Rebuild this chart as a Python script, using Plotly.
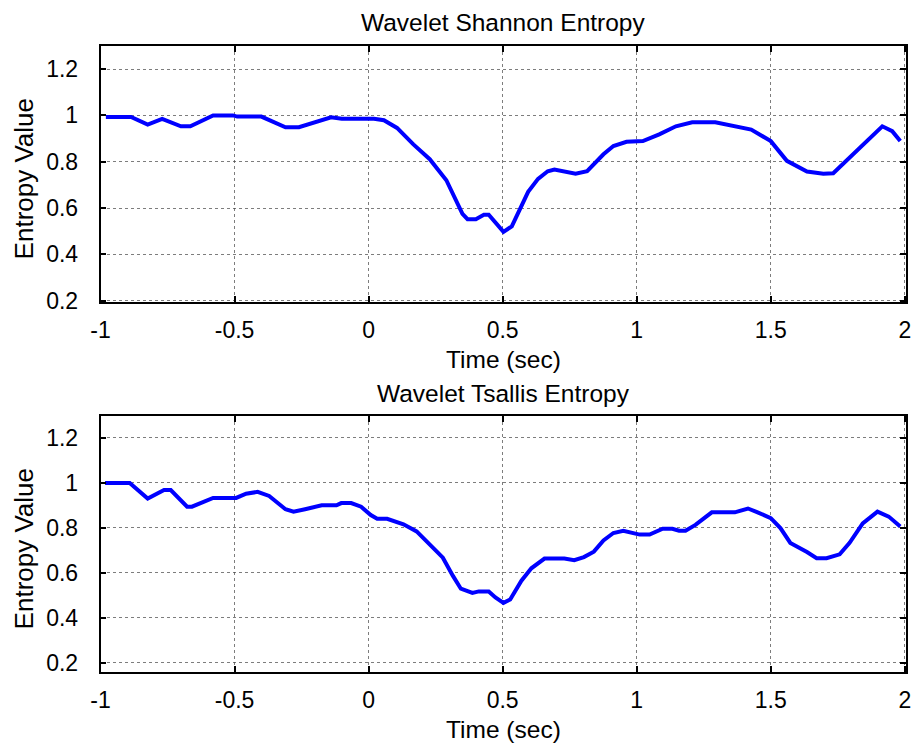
import plotly.graph_objects as go

# Wavelet Shannon Entropy (top panel)
shannon_t = [-0.98, -0.886, -0.824, -0.77, -0.70, -0.665, -0.58, -0.506, -0.49, -0.40, -0.31, -0.26,
             -0.14, -0.10, 0.02, 0.057, 0.106, 0.167, 0.228, 0.29, 0.35, 0.369, 0.40, 0.43, 0.448,
             0.473, 0.503, 0.534, 0.57, 0.595, 0.632, 0.668, 0.693, 0.73, 0.772, 0.815, 0.876,
             0.913, 0.962, 1.023, 1.084, 1.146, 1.207, 1.293, 1.353, 1.427, 1.50, 1.56, 1.635,
             1.696, 1.733, 1.794, 1.867, 1.916, 1.953, 1.983]
shannon_v = [0.993, 0.993, 0.96, 0.985, 0.953, 0.953, 1.0, 1.0, 0.995, 0.995, 0.949, 0.949,
             0.992, 0.986, 0.986, 0.979, 0.946, 0.875, 0.811, 0.72, 0.575, 0.552, 0.552, 0.571, 0.571,
             0.535, 0.497, 0.521, 0.606, 0.67, 0.726, 0.759, 0.766, 0.759, 0.748, 0.759, 0.832,
             0.868, 0.886, 0.889, 0.918, 0.953, 0.97, 0.97, 0.957, 0.939, 0.889, 0.804, 0.758,
             0.748, 0.75, 0.818, 0.903, 0.953, 0.932, 0.889]

# Wavelet Tsallis Entropy (bottom panel)
tsallis_t = [-0.983, -0.891, -0.824, -0.763, -0.738, -0.677, -0.659, -0.58, -0.494, -0.457, -0.414,
             -0.371, -0.31, -0.28, -0.237, -0.175, -0.12, -0.102, -0.065, -0.028, 0.008, 0.032, 0.069,
             0.13, 0.179, 0.228, 0.277, 0.314, 0.344, 0.387, 0.411, 0.448, 0.473, 0.503, 0.528, 0.57,
             0.607, 0.656, 0.73, 0.767, 0.803, 0.84, 0.876, 0.913, 0.95, 1.011, 1.048, 1.097, 1.133,
             1.158, 1.182, 1.219, 1.28, 1.366, 1.415, 1.451, 1.5, 1.536, 1.573, 1.635, 1.671, 1.708,
             1.757, 1.794, 1.843, 1.898, 1.94, 1.983]
tsallis_v = [1.0, 1.0, 0.93, 0.968, 0.968, 0.894, 0.894, 0.933, 0.933, 0.952, 0.96,
             0.942, 0.883, 0.872, 0.883, 0.9, 0.9, 0.91, 0.91, 0.894, 0.857, 0.84, 0.84,
             0.816, 0.784, 0.726, 0.667, 0.587, 0.529, 0.51, 0.517, 0.517, 0.49, 0.466, 0.481, 0.565,
             0.62, 0.663, 0.663, 0.656, 0.67, 0.694, 0.744, 0.777, 0.787, 0.77, 0.77, 0.796, 0.796,
             0.787, 0.787, 0.813, 0.869, 0.869, 0.886, 0.869, 0.843, 0.799, 0.733, 0.692, 0.665, 0.665,
             0.682, 0.733, 0.82, 0.872, 0.85, 0.806]

y_ticks = [0.2, 0.4, 0.6, 0.8, 1.0, 1.2]
y_ticktext = ["0.2", "0.4", "0.6", "0.8", "1", "1.2"]
x_ticks = [-1, -0.5, 0, 0.5, 1, 1.5, 2]
x_ticktext = ["-1", "-0.5", "0", "0.5", "1", "1.5", "2"]

titles = ["Wavelet Shannon Entropy", "Wavelet Tsallis Entropy"]
x_title = "Time (sec)"
y_title = "Entropy Value"

FONT = "Liberation Sans, Arial, sans-serif"
W, H = 923, 753


def px_y(p):
    return 1 - p / H


fig = go.Figure()
fig.add_trace(go.Scatter(x=shannon_t, y=shannon_v, mode="lines",
                         line=dict(color="#0000ff", width=4), xaxis="x", yaxis="y",
                         showlegend=False))
fig.add_trace(go.Scatter(x=tsallis_t, y=tsallis_v, mode="lines",
                         line=dict(color="#0000ff", width=4), xaxis="x2", yaxis="y2",
                         showlegend=False))

xd = [92 / W, 910.7 / W]
xc = (xd[0] + xd[1]) / 2
ax_common = dict(showline=True, linecolor="black", linewidth=1.5, mirror="ticks",
                 ticks="inside", ticklen=6, tickcolor="black", tickwidth=1.5,
                 showgrid=True, gridcolor="rgba(70,70,70,0.7)", griddash="dot", gridwidth=1,
                 zeroline=False, tickfont=dict(family=FONT, size=23, color="black"))
xcommon = dict(ax_common, range=[-1, 2.004], tickvals=x_ticks, ticktext=x_ticktext,
               ticklabelstandoff=7)
ycommon = dict(ax_common, tickvals=y_ticks, ticktext=y_ticktext, ticklabelstandoff=16)

top_dom = [px_y(306.7), px_y(46.7)]
bot_dom = [px_y(682.7), px_y(422.7)]

tfont = dict(family=FONT, size=24.5, color="black")
yfont = dict(family=FONT, size=26, color="black")
ann = []
for i, (dom, ty, xty, yly) in enumerate([(top_dom, 23, 365, 181.5), (bot_dom, 400, 741, 557.5)]):
    ann.append(dict(text=titles[i], x=xc, y=px_y(ty), xref="paper", yref="paper",
                    showarrow=False, xanchor="center", yanchor="middle", font=tfont))
    ann.append(dict(text=x_title, x=xc, y=px_y(xty), xref="paper", yref="paper",
                    showarrow=False, xanchor="center", yanchor="middle", font=tfont))
    ann.append(dict(text=y_title, x=14 / W, y=px_y(yly), xref="paper", yref="paper",
                    showarrow=False, xanchor="center", yanchor="middle", textangle=-90, font=yfont))

fig.update_layout(
    width=W, height=H,
    margin=dict(l=0, r=0, t=0, b=0),
    paper_bgcolor="white", plot_bgcolor="white",
    xaxis=dict(xcommon, domain=xd, anchor="y"),
    yaxis=dict(ycommon, domain=top_dom, range=[0.195, 1.3], anchor="x"),
    xaxis2=dict(xcommon, domain=xd, anchor="y2"),
    yaxis2=dict(ycommon, domain=bot_dom, range=[0.159, 1.298], anchor="x2"),
    annotations=ann,
)
fig.write_html("out.html")
